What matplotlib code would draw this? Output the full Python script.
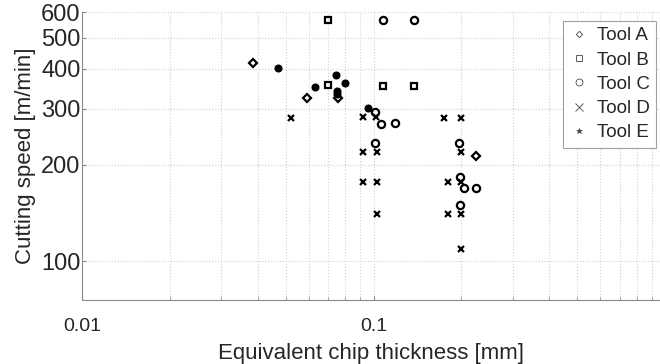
import matplotlib
matplotlib.use("Agg")
import matplotlib.pyplot as plt
from matplotlib.lines import Line2D
from matplotlib.ticker import FixedLocator, NullFormatter, NullLocator

plt.rcParams['font.family'] = ['Liberation Sans', 'DejaVu Sans']

# Data (equivalent chip thickness [mm], cutting speed [m/min])
tool_a_x = [0.0387, 0.059, 0.0756, 0.225]
tool_a_y = [417, 325, 325, 214]

tool_b_x = [0.070, 0.070, 0.108, 0.138]
tool_b_y = [566, 355, 354, 354]

tool_c_x = [0.108, 0.138, 0.101, 0.106, 0.118, 0.101, 0.197, 0.198, 0.204, 0.225, 0.198]
tool_c_y = [566, 566, 293, 269, 270, 234, 234, 183, 170, 170, 150]

tool_d_x = [0.052, 0.092, 0.102, 0.175, 0.200, 0.092, 0.103, 0.200,
            0.092, 0.103, 0.180, 0.200, 0.103, 0.180, 0.200, 0.200]
tool_d_y = [280, 282, 283, 281, 281, 220, 220, 219,
            177, 177, 177, 177, 141, 141, 141, 109]

tool_e_x = [0.047, 0.063, 0.0744, 0.080, 0.075, 0.075, 0.096]
tool_e_y = [401, 351, 382, 362, 341, 333, 302]

labels = ["Tool A", "Tool B", "Tool C", "Tool D", "Tool E"]
x_ticks = [0.01, 0.1]
x_tick_labels = ["0.01", "0.1"]
y_ticks = [100, 200, 300, 400, 500, 600]

W, H = 660, 364
fig = plt.figure(figsize=(W / 100, H / 100), dpi=100)
left, right, top, bottom = 82, 660, 12.3, 300
ax = fig.add_axes([left / W, 1 - bottom / H, (right - left) / W, (bottom - top) / H])

ax.set_xscale('log')
ax.set_yscale('log')
ax.set_xlim(0.01, 0.96)
ax.set_ylim(75.7, 600)

mk = dict(linestyle='none', color='black', markerfacecolor='none', markeredgewidth=1.6, zorder=3)
ax.plot(tool_a_x, tool_a_y, marker='D', markersize=3.6, **mk)
ax.plot(tool_b_x, tool_b_y, marker='s', markersize=5.0, **mk)
ax.plot(tool_c_x, tool_c_y, marker='o', markersize=5.2, **mk)
ax.plot(tool_d_x, tool_d_y, marker='x', markersize=5.0, **mk)
ax.plot(tool_e_x, tool_e_y, marker='o', markersize=4.8, linestyle='none', color='black',
        markerfacecolor='black', markeredgewidth=1.0, zorder=3)

# axes styling
ax.xaxis.set_major_locator(FixedLocator(x_ticks))
ax.set_xticklabels(x_tick_labels)
ax.yaxis.set_major_locator(FixedLocator(y_ticks))
ax.set_yticklabels([str(v) for v in y_ticks])
ax.yaxis.set_minor_locator(NullLocator())
ax.xaxis.set_minor_formatter(NullFormatter())

ax.grid(True, which='major', axis='both', linestyle=':', color='#d0d0d0', linewidth=0.8)
ax.grid(True, which='minor', axis='x', linestyle=':', color='#d0d0d0', linewidth=0.8)
ax.set_axisbelow(True)

for s in ['top', 'right']:
    ax.spines[s].set_visible(False)
for s in ['left', 'bottom']:
    ax.spines[s].set_color('#8a8a8a')
    ax.spines[s].set_linewidth(0.8)

ax.tick_params(axis='both', which='both', direction='in', color='#8a8a8a', labelcolor='#262626')
ax.tick_params(axis='x', which='major', length=3, pad=13, labelsize=14)
ax.tick_params(axis='x', which='minor', length=2)
ax.tick_params(axis='y', which='major', length=3, pad=1, labelsize=17)

ax.set_xlabel("Equivalent chip thickness [mm]", fontsize=16, color='#262626', labelpad=6)
ax.set_ylabel("Cutting speed [m/min]", fontsize=16, color='#262626', labelpad=4)

handles = [
    Line2D([], [], linestyle='none', marker='D', markersize=3.2, markerfacecolor='none',
           markeredgecolor='#444444', markeredgewidth=0.6),
    Line2D([], [], linestyle='none', marker='s', markersize=5, markerfacecolor='none',
           markeredgecolor='#444444', markeredgewidth=0.6),
    Line2D([], [], linestyle='none', marker='o', markersize=5, markerfacecolor='none',
           markeredgecolor='#444444', markeredgewidth=0.6),
    Line2D([], [], linestyle='none', marker='x', markersize=5.5, markeredgecolor='#444444',
           markeredgewidth=0.6),
    Line2D([], [], linestyle='none', marker='*', markersize=4, markerfacecolor='#444444',
           markeredgecolor='#444444', markeredgewidth=0.4),
]
leg = fig.legend(handles, labels, loc='upper right', bbox_to_anchor=(656 / W, 1 - 20.7 / H),
                 fontsize=13.5, frameon=True, fancybox=False, edgecolor='#a0a0a0',
                 framealpha=1, borderpad=0.35, labelspacing=0.38, handlelength=1.0,
                 handletextpad=0.45, borderaxespad=0)
leg.get_frame().set_linewidth(0.8)
for t in leg.get_texts():
    t.set_color('#262626')

fig.savefig("out.png", dpi=100)
